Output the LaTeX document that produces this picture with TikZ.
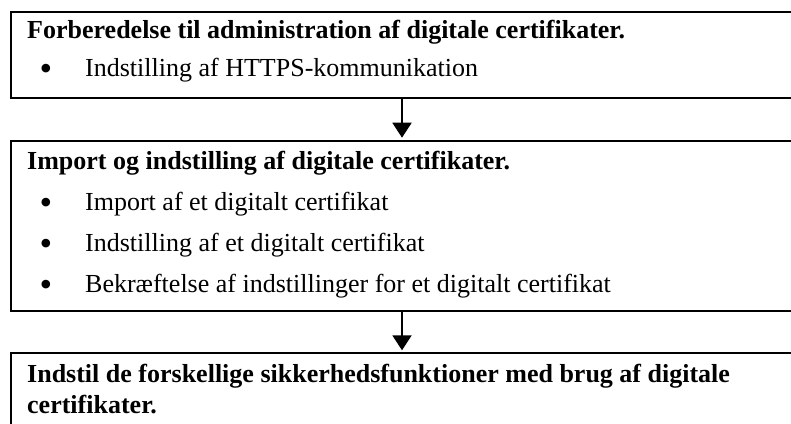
\documentclass[tikz,border=0pt]{standalone}
\usepackage{fontspec}
\setmainfont{Liberation Serif}
\usetikzlibrary{arrows.meta}
\begin{document}
\begin{tikzpicture}[x=1pt,y=-1pt,
  box/.style={draw, line width=2pt, rectangle, outer sep=0pt, inner sep=0pt, minimum width=782pt, anchor=north},
  ttl/.style={anchor=base west, inner sep=0pt, font=\fontsize{26}{31}\selectfont\bfseries},
  itm/.style={anchor=base west, inner sep=0pt, font=\fontsize{26}{31}\selectfont},
  bul/.style={anchor=center, inner sep=0pt, font=\fontsize{36}{40}\selectfont},
  arr/.style={line width=2pt, -{Triangle[width=19pt,length=15pt]}, shorten >=3pt}]
\useasboundingbox (0,0) rectangle (791,423);
\clip (0,0) rectangle (791,423);
\node[box, minimum height=85.5pt] (b1) at (402,12) {};
\node[box, minimum height=170pt] (b2) at (402,140.7) {};
\node[box, minimum height=120pt] (b3) at (402,353.3) {};
\node[ttl] (t1) at (27,38.5) {Forberedelse til administration af digitale certifikater.};
\node[bul] (u1) at (46,72) {\textbullet};
\node[itm] (i1) at (85,76.5) {Indstilling af HTTPS-kommunikation};
\node[ttl] (t2) at (27,169.5) {Import og indstilling af digitale certifikater.};
\node[bul] (u2) at (46,206) {\textbullet};
\node[itm] (i2) at (85,210.5) {Import af et digitalt certifikat};
\node[bul] (u3) at (46,247) {\textbullet};
\node[itm] (i3) at (85,251.5) {Indstilling af et digitalt certifikat};
\node[bul] (u4) at (46,288) {\textbullet};
\node[itm] (i4) at (85,292.5) {Bekræftelse af indstillinger for et digitalt certifikat};
\node[ttl] (t3) at (27,382) {Indstil de forskellige sikkerhedsfunktioner med brug af digitale};
\node[ttl] (t3b) at (27,413) {certifikater.};
\draw[arr] (b1.south) -- (b2.north);
\draw[arr] (b2.south) -- (b3.north);
\end{tikzpicture}
\end{document}
